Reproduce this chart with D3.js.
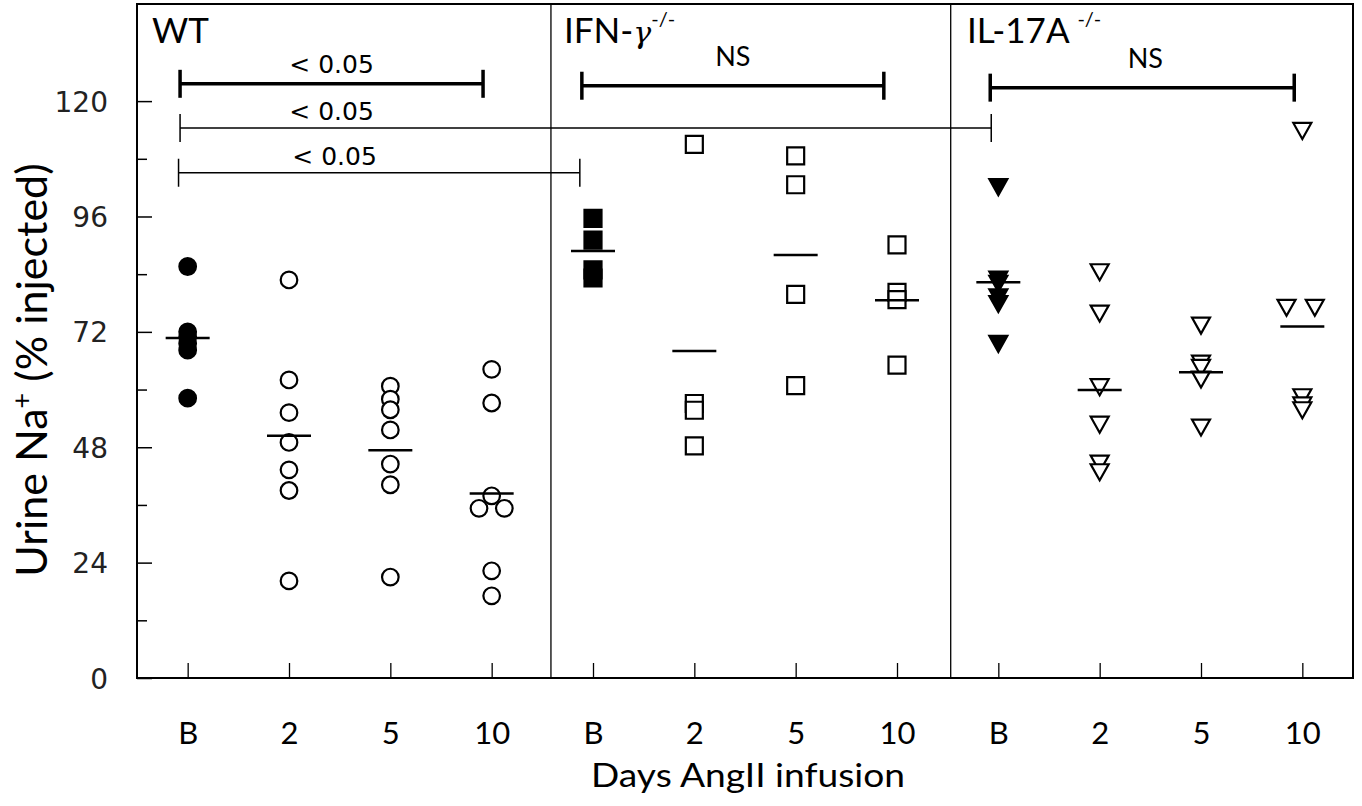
<!DOCTYPE html>
<html><head><meta charset="utf-8">
<script src="https://cdn.jsdelivr.net/npm/d3@7"></script>
<style>body{margin:0;background:#fff} svg{display:block}</style>
</head><body><svg id="c" width="1362" height="806"></svg>
<script>
// ---------- data ----------
const days = ["B", "2", "5", "10"];
const groupTitles = ["WT", "IFN", "IL-17A"];

const wtB  = [85.6, 72.0, 71.0, 69.6, 68.2, 58.2];
const wt2  = [82.8, 62.0, 55.2, 49.0, 43.3, 39.0, 20.2];
const wt5  = [60.7, 58.0, 55.8, 51.6, 44.5, 40.2, 21.0];
const wt10 = [64.2, 57.2, 37.9, 35.3, 35.3, 22.3, 17.1];
const wt10Jitter = [0, 0, 0, -0.125, 0.125, 0, 0];
const wtMeans = [70.7, 50.4, 47.4, 38.4];

const ifnB  = [95.6, 91.1, 84.9, 83.2];
const ifn2  = [111.0, 57.1, 55.7, 48.3];
const ifn5  = [108.6, 102.6, 79.8, 60.8];
const ifn10 = [90.1, 80.2, 78.7, 65.1];
const ifnMeans = [88.8, 68.0, 88.0, 78.6];

const ilB  = [102.2, 83.0, 82.1, 79.3, 77.9, 69.6];
const il2  = [84.5, 75.9, 60.6, 52.8, 44.7, 42.9];
const il5  = [73.4, 65.5, 64.6, 62.2, 52.2];
const il10 = [113.9, 77.1, 77.1, 58.5, 56.8, 55.8];
const il10Jitter = [0, -0.156, 0.123, 0, 0, 0];
const ilMeans = [82.3, 59.9, 63.6, 73.1];

const yMajorTicks = [0, 24, 48, 72, 96, 120];
const yMinorTicks = [12, 36, 60, 84, 108];
const dividers = [3.585, 7.53];

// significance brackets
const bracketFrom  = [-0.075, -0.075, -0.09, 3.89, 7.92];
const bracketTo    = [2.915, 7.93, 3.87, 6.87, 10.92];
const bracketY     = [123.6, 114.4, 105.1, 123.2, 122.8];
const bracketThick = [true, false, false, true, true];
const bracketLabel = ["< 0.05", "< 0.05", "< 0.05", "NS", "NS"];
const bracketLabelX = [1.42, 1.42, 1.45, 5.38, 9.45];

// ---------- build ----------
const series = [
  {i: 0, vals: wtB, shape: "circle", filled: true},
  {i: 1, vals: wt2, shape: "circle"},
  {i: 2, vals: wt5, shape: "circle"},
  {i: 3, vals: wt10, jit: wt10Jitter, shape: "circle"},
  {i: 4, vals: ifnB, shape: "square", filled: true},
  {i: 5, vals: ifn2, shape: "square"},
  {i: 6, vals: ifn5, shape: "square"},
  {i: 7, vals: ifn10, shape: "square"},
  {i: 8, vals: ilB, shape: "tri", filled: true},
  {i: 9, vals: il2, shape: "tri"},
  {i: 10, vals: il5, shape: "tri"},
  {i: 11, vals: il10, jit: il10Jitter, shape: "tri"}
];
const means = wtMeans.concat(ifnMeans, ilMeans);
const points = [];
series.forEach(s => s.vals.forEach((v, k) => points.push({
  x: s.i + (s.jit ? s.jit[k] : 0), v, shape: s.shape, filled: !!s.filled
})));

const L = 137, R = 1353, T = 4, B = 678;
const svg = d3.select("#c");
const x = d3.scaleLinear().domain([-0.5, 11.5]).range([L, R]);
const y = d3.scaleLinear().domain([0, 140.2]).range([B, T]);

// frame
svg.append("rect").attr("x", L).attr("y", T).attr("width", R - L).attr("height", B - T)
  .attr("fill", "none").attr("stroke", "#000").attr("stroke-width", 2);
svg.selectAll("line.div").data(dividers).join("line")
  .attr("x1", d => x(d)).attr("x2", d => x(d)).attr("y1", T).attr("y2", B)
  .attr("stroke", "#000").attr("stroke-width", 1.3);

// y axis
const yAx = svg.append("g").attr("transform", `translate(${L},0)`)
  .call(d3.axisLeft(y).tickValues(yMajorTicks).tickSize(-15).tickPadding(29).tickFormat(d3.format("d")));
yAx.select(".domain").remove();
yAx.selectAll("line").attr("stroke", "#000").attr("stroke-width", 1.5);
yAx.selectAll("text").attr("font-family", "DejaVu Sans").attr("font-size", 28).attr("fill", "#222").attr("dy", "0.36em");
const yMin = svg.append("g").attr("transform", `translate(${L},0)`)
  .call(d3.axisLeft(y).tickValues(yMinorTicks).tickSize(-10).tickFormat(""));
yMin.select(".domain").remove();
yMin.selectAll("line").attr("stroke", "#000").attr("stroke-width", 1.5);

// x axis
const xAx = svg.append("g").attr("transform", `translate(0,${B})`)
  .call(d3.axisBottom(x).tickValues(d3.range(12)).tickSize(-15).tickPadding(44).tickFormat(i => days[i % 4]));
xAx.select(".domain").remove();
xAx.selectAll("line").attr("stroke", "#000").attr("stroke-width", 1.3);
xAx.selectAll("text").attr("font-family", "Lato").attr("font-size", 31).attr("fill", "#000");

// axis titles
svg.append("text").attr("x", 748).attr("y", 787).attr("text-anchor", "middle")
  .attr("font-family", "Lato").attr("font-size", 32)
  .attr("textLength", 314).attr("lengthAdjust", "spacingAndGlyphs").text("Days AngII infusion");
const yt = svg.append("text").attr("transform", "translate(47,370) rotate(-90)")
  .attr("text-anchor", "middle").attr("font-family", "Lato").attr("font-size", 43);
yt.append("tspan").text("Urine Na");
yt.append("tspan").attr("font-size", 27).attr("dy", -16).text("+");
yt.append("tspan").attr("dy", 16).text(" (% injected)");

// group titles
svg.append("text").attr("x", 152).attr("y", 43).attr("font-family", "Lato").attr("font-size", 35).text(groupTitles[0]);
const t2 = svg.append("text").attr("x", 564).attr("y", 43).attr("font-family", "Lato").attr("font-size", 35);
t2.append("tspan").text(groupTitles[1] + "-");
t2.append("tspan").attr("font-family", "DejaVu Serif").attr("font-style", "italic").attr("font-size", 30).text("γ");
t2.append("tspan").attr("font-size", 20).attr("dy", -17).text("-/-");
const t3 = svg.append("text").attr("x", 967).attr("y", 43).attr("font-family", "Lato").attr("font-size", 35);
t3.append("tspan").text(groupTitles[2] + " ");
t3.append("tspan").attr("font-size", 20).attr("dy", -17).text("-/-");

// brackets
bracketY.forEach((bv, k) => {
  const g = svg.append("g");
  const sw = bracketThick[k] ? 3.5 : 1.5;
  const yy = y(bv), x1 = x(bracketFrom[k]), x2 = x(bracketTo[k]);
  g.append("line").attr("x1", x1).attr("x2", x2).attr("y1", yy).attr("y2", yy).attr("stroke", "#000").attr("stroke-width", sw);
  [x1, x2].forEach(xx => g.append("line").attr("x1", xx).attr("x2", xx).attr("y1", yy - 14).attr("y2", yy + 14)
    .attr("stroke", "#000").attr("stroke-width", sw));
  const isNS = bracketLabel[k] === "NS";
  g.append("text").attr("x", x(bracketLabelX[k])).attr("y", yy - (isNS ? 20 : (k === 0 ? 11 : 8)))
    .attr("text-anchor", "middle")
    .attr("font-family", isNS ? "Lato" : "DejaVu Sans").attr("font-size", isNS ? 27 : 25).text(bracketLabel[k]);
});

// markers
function shapePath(s) {
  if (s === "circle") return d3.symbol(d3.symbolCircle, Math.PI * 8.3 * 8.3)();
  if (s === "square") return "M-8.5,-8.5H8.5V8.5H-8.5Z";
  return "M-9,-7.5L9,-7.5L0,8.5Z";
}
svg.append("g").selectAll("path").data(points).join("path")
  .attr("d", d => shapePath(d.shape))
  .attr("transform", d => `translate(${x(d.x)},${y(d.v)})`)
  .attr("fill", d => d.filled ? "#000" : "#fff")
  .attr("stroke", "#000").attr("stroke-width", 2.2);

// mean lines
svg.append("g").selectAll("line").data(means).join("line")
  .attr("x1", (d, i) => x(i) - 22).attr("x2", (d, i) => x(i) + 22)
  .attr("y1", d => y(d)).attr("y2", d => y(d))
  .attr("stroke", "#000").attr("stroke-width", 2.5);
</script></body></html>
